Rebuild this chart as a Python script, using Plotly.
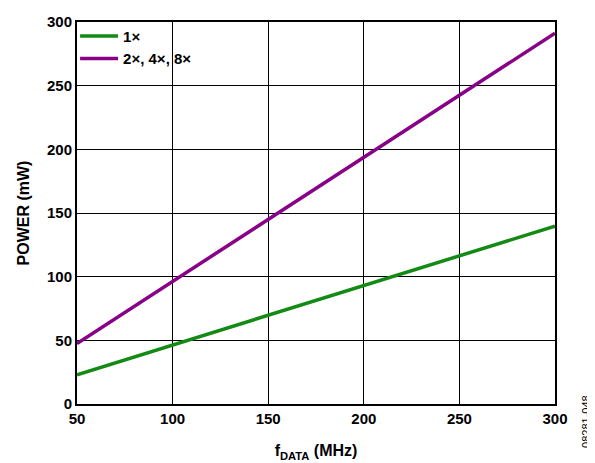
import plotly.graph_objects as go

freq = [50, 100, 150, 200, 250, 300]
power_1x = [23, 46.3, 69.6, 93, 116.4, 139.7]
power_248x = [47.5, 96.2, 145, 193.8, 242.5, 291.2]
x_ticks = [50, 100, 150, 200, 250, 300]
y_ticks = [0, 50, 100, 150, 200, 250, 300]

FONT = "Arial, Liberation Sans, sans-serif"

fig = go.Figure()
fig.add_trace(go.Scatter(x=freq, y=power_1x, mode="lines", name="1×",
                         line=dict(color="#138a13", width=3.5)))
fig.add_trace(go.Scatter(x=freq, y=power_248x, mode="lines", name="2×, 4×, 8×",
                         line=dict(color="#870087", width=3.5)))

axis_common = dict(showgrid=True, gridcolor="black", gridwidth=1.3,
                   showline=True, linecolor="black", linewidth=2, mirror=True,
                   ticks="", zeroline=False, automargin=False,
                   tickfont=dict(family=FONT, size=15, color="black", weight="bold"))

fig.update_xaxes(range=[50, 300], tickvals=x_ticks, **axis_common,
                 title=dict(text="f<sub>DATA</sub> (MHz)",
                            font=dict(family=FONT, size=16, color="black", weight="bold"),
                            standoff=19))
fig.update_yaxes(range=[0, 300], tickvals=y_ticks, **axis_common,
                 title=dict(text="POWER (mW)",
                            font=dict(family=FONT, size=16, color="black", weight="bold"),
                            standoff=13))

fig.add_annotation(text="08281-048", xref="paper", yref="paper", x=1.066, y=0.029,
                   xanchor="center", yanchor="top", textangle=-90, showarrow=False,
                   font=dict(family=FONT, size=11, color="black"))

# white backing behind the legend (covers gridlines, not the traces)
fig.add_shape(type="rect", xref="paper", yref="paper", x0=0, x1=0.32, y0=0.856, y1=1,
              fillcolor="white", line=dict(width=0), layer="between")

fig.update_layout(
    width=587, height=455,
    margin=dict(l=69, r=40, t=14, b=59, autoexpand=False),
    plot_bgcolor="white", paper_bgcolor="white",
    showlegend=True,
    legend=dict(x=-0.004, y=1.006, xanchor="left", yanchor="top",
                bgcolor="rgba(0,0,0,0)", borderwidth=0, itemwidth=38,
                font=dict(family=FONT, size=15, color="black", weight="bold"),
                tracegroupgap=0),
)

fig.write_html("out.html")
